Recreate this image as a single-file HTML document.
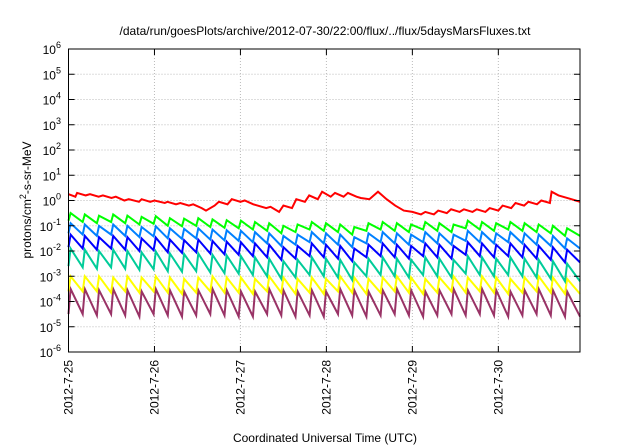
<!DOCTYPE html>
<html><head><meta charset="utf-8"><style>
body{margin:0;background:#fff;}
svg{display:block;font-family:"Liberation Sans",sans-serif;}
</style></head><body>
<svg id="chart" width="640" height="448" viewBox="0 0 640 448" xmlns="http://www.w3.org/2000/svg">
<text x="325" y="35" font-size="12" text-anchor="middle">/data/run/goesPlots/archive/2012-07-30/22:00/flux/../flux/5daysMarsFluxes.txt</text>
<text transform="translate(31,200) rotate(-90)" font-size="12" text-anchor="middle">protons/cm<tspan dy="-5" font-size="9">2</tspan><tspan dy="5">-s-sr-MeV</tspan></text>
<text x="325" y="442" font-size="12" text-anchor="middle">Coordinated Universal Time (UTC)</text>
<g id="grid"></g><g id="series"></g><g id="axes"></g>
</svg>
<script>
const dayTicks=[25,26,27,28,29,30];
const dayLabels=["2012-7-25","2012-7-26","2012-7-27","2012-7-28","2012-7-29","2012-7-30"];
const decadeTicks=[-6,-5,-4,-3,-2,-1,0,1,2,3,4,5,6];
const cycleStart=25, cyclePeriod=0.165;
const greenPeaks=[-0.5,-0.55,-0.6,-0.55,-0.6,-0.65,-0.62,-0.7,-0.72,-0.7,-0.75,-0.78,-0.8,-0.85,-0.9,-1.0,-0.95,-0.85,-0.9,-0.95,-1.05,-0.9,-0.85,-0.9,-0.95,-0.85,-0.9,-0.95,-0.8,-0.85,-0.9,-0.85,-0.9,-0.95,-1.0,-1.1];
const lbluePeaks=[-0.9,-0.95,-1.0,-0.95,-1.0,-1.05,-1.02,-1.1,-1.12,-1.1,-1.15,-1.18,-1.2,-1.25,-1.3,-1.4,-1.35,-1.25,-1.3,-1.35,-1.45,-1.3,-1.25,-1.3,-1.35,-1.25,-1.3,-1.35,-1.2,-1.25,-1.3,-1.25,-1.3,-1.35,-1.4,-1.5];
const dbluePeaks=[-1.35,-1.4,-1.45,-1.4,-1.45,-1.5,-1.47,-1.55,-1.57,-1.55,-1.6,-1.63,-1.65,-1.7,-1.75,-1.85,-1.8,-1.7,-1.75,-1.8,-1.9,-1.75,-1.7,-1.75,-1.8,-1.7,-1.75,-1.8,-1.65,-1.7,-1.75,-1.7,-1.75,-1.8,-1.85,-1.95];
const tealPeaks=[-1.9,-1.95,-2.0,-1.95,-2.0,-2.05,-2.02,-2.1,-2.12,-2.1,-2.15,-2.18,-2.2,-2.25,-2.3,-2.4,-2.35,-2.25,-2.3,-2.35,-2.45,-2.3,-2.25,-2.3,-2.35,-2.25,-2.3,-2.35,-2.2,-2.25,-2.3,-2.25,-2.3,-2.35,-2.4,-2.5];
const yellowPeaks=[-3.0,-3.0,-3.0,-3.05,-3.0,-3.05,-3.0,-3.05,-3.1,-3.05,-3.0,-3.05,-3.05,-3.1,-3.0,-3.05,-3.1,-3.05,-3.1,-3.0,-3.05,-3.1,-3.05,-3.0,-3.05,-3.1,-3.05,-3.0,-3.05,-3.0,-3.05,-3.1,-3.05,-3.0,-3.05,-3.1];
const purplePeaks=[-3.5,-3.5,-3.55,-3.5,-3.55,-3.6,-3.5,-3.55,-3.6,-3.55,-3.5,-3.55,-3.6,-3.6,-3.5,-3.55,-3.6,-3.55,-3.6,-3.5,-3.55,-3.6,-3.55,-3.5,-3.55,-3.6,-3.55,-3.5,-3.55,-3.5,-3.55,-3.6,-3.55,-3.5,-3.55,-3.6];
const depths=[0.3,0.4,0.5,0.7,0.6,1.0];
const redDays=[25.0,25.08,25.1,25.2,25.25,25.35,25.4,25.5,25.55,25.65,25.7,25.82,25.85,25.95,26.0,26.12,26.15,26.25,26.3,26.4,26.45,26.55,26.6,26.7,26.75,26.85,26.9,27.0,27.05,27.15,27.2,27.3,27.35,27.45,27.5,27.6,27.65,27.75,27.8,27.9,27.95,28.05,28.1,28.2,28.25,28.35,28.4,28.5,28.6,28.7,28.8,28.9,29.0,29.1,29.15,29.25,29.3,29.4,29.45,29.55,29.6,29.7,29.75,29.85,29.9,30.0,30.05,30.15,30.2,30.3,30.35,30.45,30.5,30.6,30.62,30.7,30.75,30.85,30.9,30.95];
const redLog=[0.25,0.15,0.3,0.2,0.25,0.15,0.2,0.1,0.15,0.0,0.05,-0.05,0.05,-0.05,0.0,-0.1,-0.05,-0.15,-0.1,-0.2,-0.15,-0.3,-0.4,-0.2,-0.05,-0.15,0.05,-0.05,0.0,-0.15,-0.2,-0.3,-0.25,-0.45,-0.2,-0.3,0.05,-0.05,0.2,0.05,0.35,0.15,0.3,0.15,0.3,0.15,0.1,0.05,0.35,0.05,-0.2,-0.4,-0.45,-0.55,-0.45,-0.55,-0.4,-0.5,-0.35,-0.45,-0.35,-0.45,-0.35,-0.45,-0.3,-0.4,-0.2,-0.3,-0.1,-0.2,-0.05,-0.15,0.0,-0.1,0.35,0.2,0.15,0.05,0.0,-0.05];
const L=68.5,R=580,T=49,B=352;
const xS=d=>L+(d-25)*(R-L)/5.95;
const yS=lg=>B-(lg+6)*(B-T)/12;
const NS="http://www.w3.org/2000/svg";
function mk(tag,parent){const e=document.createElementNS(NS,tag);parent.appendChild(e);return e;}
const grid=document.getElementById('grid'),axes=document.getElementById('axes'),ser=document.getElementById('series');
decadeTicks.forEach(p=>{
 const y=yS(p);
 if(p>-6&&p<6){const g=mk('line',grid);
 
 
 g.setAttribute('x1',L);g.setAttribute('x2',R);g.setAttribute('y1',y);g.setAttribute('y2',y);g.setAttribute('stroke','#bbb');g.setAttribute('stroke-dasharray','1,2');}
 [[L,L+6],[R,R-6]].forEach(([a,b])=>{const t=mk('line',axes);t.setAttribute('x1',a);t.setAttribute('x2',b);t.setAttribute('y1',y);t.setAttribute('y2',y);t.setAttribute('stroke','#000');});
 const tx=mk('text',axes);
 
 
 tx.setAttribute('x',61);tx.setAttribute('y',y+5);tx.setAttribute('font-size','12');tx.setAttribute('text-anchor','end');
 tx.innerHTML='10<tspan dy="-6" font-size="9">'+p+'</tspan>';
});
dayTicks.forEach((d,i)=>{
 const x=xS(d);
 if(i>0){const g=mk('line',grid);
 
 
 g.setAttribute('x1',x);g.setAttribute('x2',x);g.setAttribute('y1',T);g.setAttribute('y2',B);g.setAttribute('stroke','#bbb');g.setAttribute('stroke-dasharray','1,2');}
 [[B,B-6],[T,T+6]].forEach(([a,b])=>{const t=mk('line',axes);t.setAttribute('x1',x);t.setAttribute('x2',x);t.setAttribute('y1',a);t.setAttribute('y2',b);t.setAttribute('stroke','#000');});
 const tx=mk('text',axes);
 
 
 tx.setAttribute('transform','translate('+(x+4)+',360) rotate(-90)');tx.setAttribute('font-size','12');tx.setAttribute('text-anchor','end');
 tx.textContent=dayLabels[i];
});
const fr=mk('rect',axes);


fr.setAttribute('x',L);fr.setAttribute('y',T);fr.setAttribute('width',R-L);fr.setAttribute('height',B-T);fr.setAttribute('fill','none');fr.setAttribute('stroke','#000');
function saw(peaks,depth,color,name){
 let pts=[];
 peaks.forEach((pk,i)=>{
  const t0=cycleStart+i*cyclePeriod;
  pts.push([t0,pk-depth]);pts.push([t0+0.025,pk]);
 });
 pts.push([30.95,peaks[peaks.length-1]-depth]);
 const p=mk('polyline',ser);
 
 
 p.setAttribute('points',pts.filter(q=>q[0]<=30.95).map(q=>xS(q[0]).toFixed(1)+','+yS(q[1]).toFixed(1)).join(' '));
 p.setAttribute('fill','none');p.setAttribute('stroke',color);p.setAttribute('stroke-width','2');
}
saw(purplePeaks,depths[5],'#993366','series-purple');
saw(yellowPeaks,depths[4],'#ffff00','series-yellow');
saw(tealPeaks,depths[3],'#00cc99','series-teal');
saw(dbluePeaks,depths[2],'#0000ff','series-dark-blue');
saw(lbluePeaks,depths[1],'#0080ff','series-light-blue');
saw(greenPeaks,depths[0],'#00ff00','series-green');
const rp=mk('polyline',ser);


rp.setAttribute('points',redDays.map((d,i)=>xS(d).toFixed(1)+','+yS(redLog[i]).toFixed(1)).join(' '));
rp.setAttribute('fill','none');rp.setAttribute('stroke','#ff0000');rp.setAttribute('stroke-width','2');
</script>
</body></html>
